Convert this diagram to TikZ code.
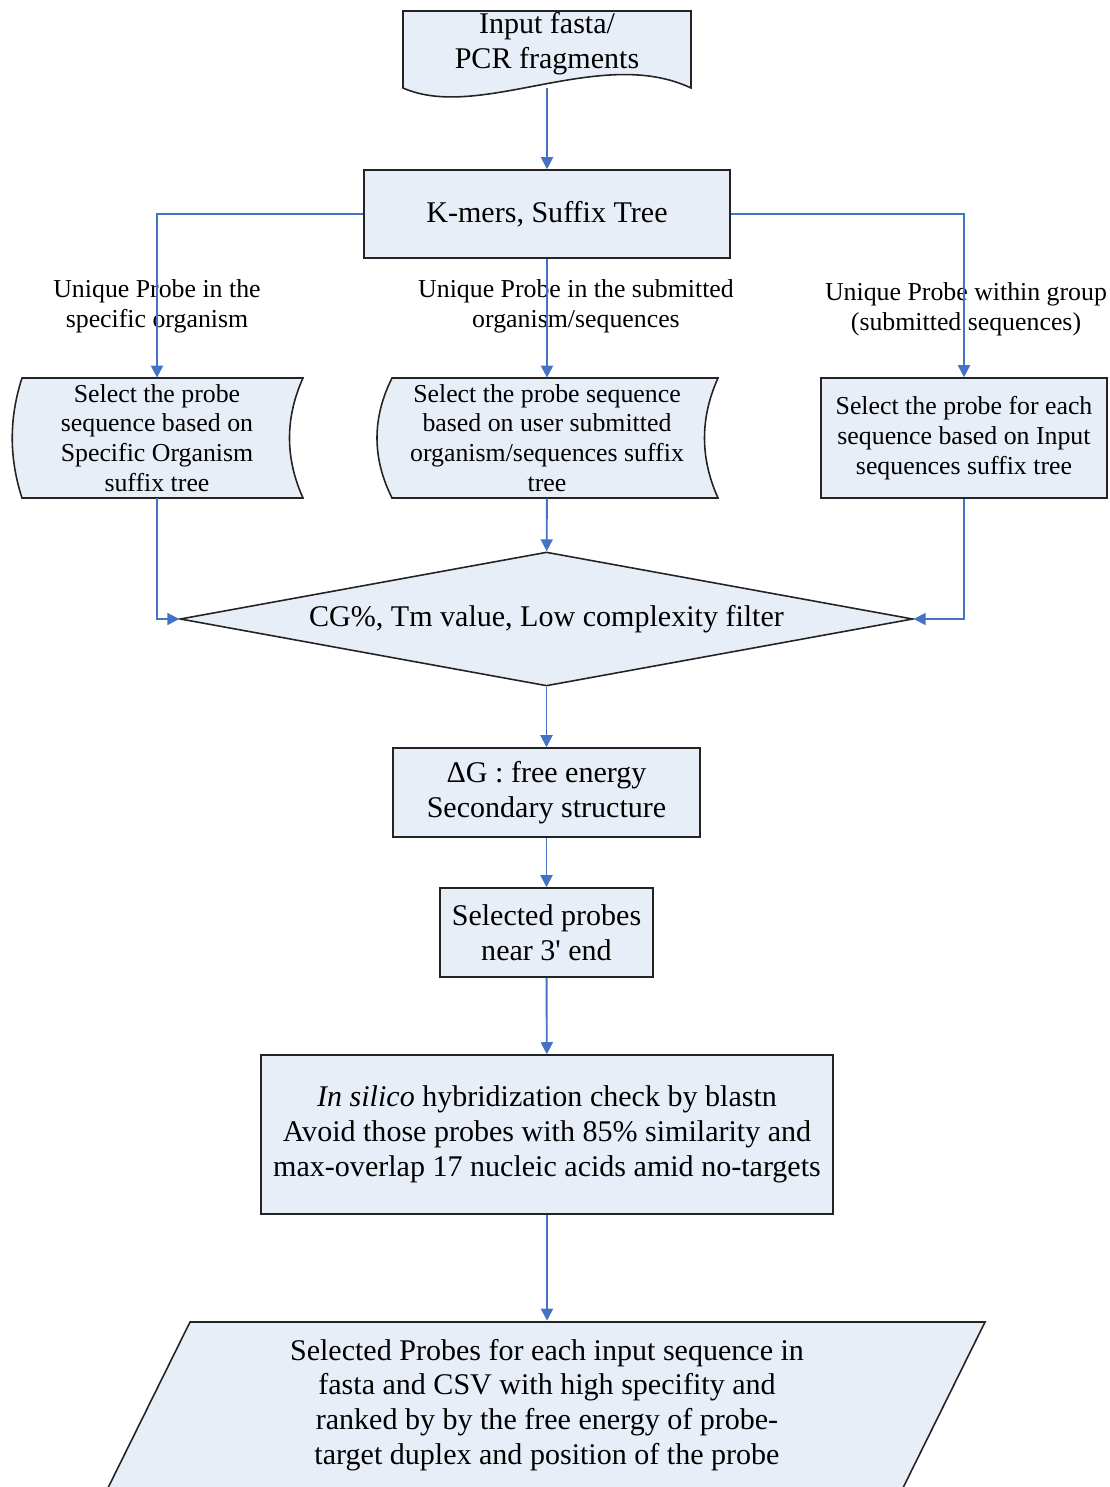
\documentclass[tikz,border=0pt]{standalone}
\usepackage{fontspec}
\setmainfont{Liberation Serif}
\usetikzlibrary{arrows.meta, shapes.geometric}
\definecolor{boxfill}{RGB}{232,238,248}
\definecolor{flowblue}{RGB}{68,114,196}
\definecolor{boxline}{RGB}{35,35,35}

\begin{document}
\begin{tikzpicture}[x=0.02cm, y=-0.02cm]
	\tikzstyle{every node} = [font=\fontsize{17.1}{19.8}\selectfont, align=center, inner sep=0pt]
	\tikzstyle{box} = [draw=boxline, fill=boxfill, line width=0.9pt]
	\tikzstyle{small} = [font=\fontsize{14.7}{17}\selectfont]
	\tikzstyle{flow} = [draw=flowblue, line width=1.1pt, -{Triangle[length=2.4mm, width=2.4mm]}]
	\useasboundingbox (0,0) rectangle (1109,1487);
	\clip (0,0) rectangle (1109,1487);

	% outlines that have no node shape of their own
	\draw[box] (403,11) -- (691,11) -- (691,88) .. controls (600,45) and (480,122) .. (403,88) -- cycle;
	\draw[box] (22,378) -- (303,378) .. controls (285,418) and (285,458) .. (303,498) -- (22,498) .. controls (9,458) and (9,418) .. (22,378) -- cycle;
	\draw[box] (392,378) -- (718,378) .. controls (700,418) and (700,458) .. (718,498) -- (392,498) .. controls (372,458) and (372,418) .. (392,378) -- cycle;
	\draw[box] (190,1322) -- (985,1322) -- (897,1500) -- (102,1500) -- cycle;

	\node (input) at (547,44) {Input fasta/\\PCR fragments}; \coordinate (inputend) at (547,88);
	\node[box, minimum width=7.32cm, minimum height=1.76cm] (kmers) at (547,214) {K-mers, Suffix Tree};
	\node[small] (uniq1) at (157,306) {Unique Probe in the\\specific organism}; \node[small] (uniq2) at (576,306) {Unique Probe in the submitted\\organism/sequences}; \node[small] (uniq3) at (966,309) {Unique Probe within group\\(submitted sequences)};
	\node[small, minimum height=2.4cm] (sel1) at (157,438) {Select the probe\\sequence based on\\Specific Organism\\suffix tree};
	\node[small, minimum height=2.4cm] (sel2) at (547,438) {Select the probe sequence\\based on user submitted\\organism/sequences suffix\\tree};
	\node[box, small, minimum width=5.72cm, minimum height=2.4cm] (sel3) at (964,438) {Select the probe for each\\sequence based on Input\\sequences suffix tree};
	\node[box, diamond, aspect=5.5, minimum width=14.66cm, minimum height=2.68cm] (filter) at (546.5,619) {CG\%, Tm value, Low complexity filter};
	\node[box, minimum width=6.14cm, minimum height=1.78cm] (dg) at (546.5,792.5) {ΔG : free energy\\Secondary structure};
	\node[box, minimum width=4.26cm, minimum height=1.78cm] (probes) at (546.5,932.5) {Selected probes\\near 3\textquotesingle{} end};
	\node[box, minimum width=11.44cm, minimum height=3.18cm] (silico) at (547,1134.5) {\textit{In silico} hybridization check by blastn\\Avoid those probes with 85\% similarity and\\max-overlap 17 nucleic acids amid no-targets};
	\node[minimum height=3.36cm] (out) at (547,1405) {Selected Probes for each input sequence in\\fasta and CSV with high specifity and\\ranked by by the free energy of probe-\\target duplex and position of the probe};

	\draw[flow] (inputend) -- (kmers);
	\draw[flow] (kmers.west) -| (sel1.north); \draw[flow] (kmers) -- (sel2); \draw[flow] (kmers.east) -| (sel3.north);
	\draw[flow] (sel1.south) |- (filter.west); \draw[flow] (sel2) -- (filter); \draw[flow] (sel3.south) |- (filter.east);
	\draw[flow] (filter) -- (dg); \draw[flow] (dg) -- (probes); \draw[flow] (probes) -- (silico); \draw[flow] (silico) -- (out);
\end{tikzpicture}
\end{document}
